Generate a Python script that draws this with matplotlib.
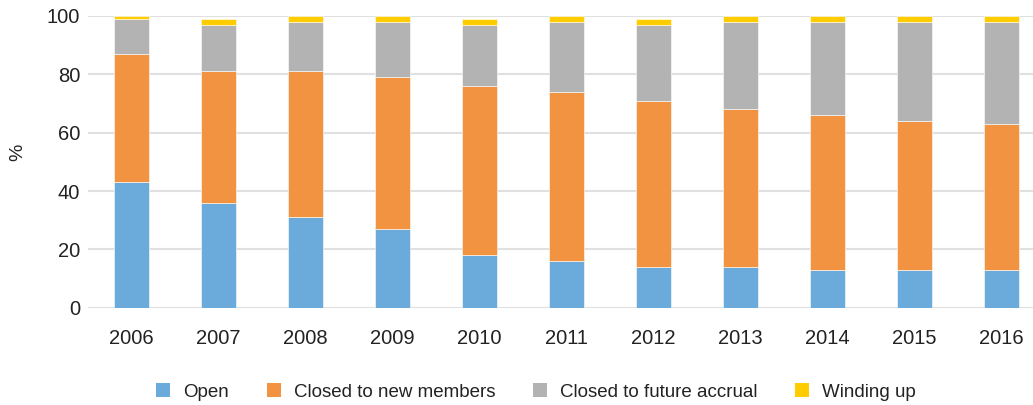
import numpy as np
from matplotlib import pyplot as plt
from matplotlib.patches import Patch

plt.rcParams['font.family'] = ['Liberation Sans', 'DejaVu Sans']

years = ['2006', '2007', '2008', '2009', '2010', '2011', '2012', '2013', '2014', '2015', '2016']
open_ = [43, 36, 31, 27, 18, 16, 14, 14, 13, 13, 13]
closed_new = [44, 45, 50, 52, 58, 58, 57, 54, 53, 51, 50]
closed_accrual = [12, 16, 17, 19, 21, 24, 26, 30, 32, 34, 35]
winding_up = [1, 2, 2, 2, 2, 2, 2, 2, 2, 2, 2]

labels = ['Open', 'Closed to new members', 'Closed to future accrual', 'Winding up']
colors = ['#6aabdb', '#f29341', '#b3b3b3', '#ffcc00']
series = [open_, closed_new, closed_accrual, winding_up]

fig = plt.figure(figsize=(10.33, 4.05), dpi=100)
ax = fig.add_axes([0.085, 0.24, 0.915, 0.7205])

x = np.arange(len(years))
bottom = np.zeros(len(years))
for vals, c in zip(series, colors):
    ax.bar(x, vals, 0.4, bottom=bottom, color=c, edgecolor='white', linewidth=0.4, zorder=3)
    bottom += np.array(vals)

ax.set_ylim(0, 100)
ax.set_xlim(-0.5, 10.36)
ax.set_yticks([0, 20, 40, 60, 80, 100])
ax.set_xticks(x)
ax.set_xticklabels(years)
ax.grid(axis='y', color='#e0e0e0', linewidth=1.5, zorder=0)
ax.set_axisbelow(True)
for s in ax.spines.values():
    s.set_visible(False)
ax.tick_params(axis='both', length=0, labelsize=14.5, colors='#222222')
ax.tick_params(axis='y', pad=5.5)
ax.tick_params(axis='x', pad=15)

ax.set_ylabel('%', fontsize=14, color='#222222')
ax.yaxis.set_label_coords(-0.065, 0.534)

handles = [Patch(facecolor=c, edgecolor='none') for c in colors]
fig.legend(handles, labels, loc='center', bbox_to_anchor=(0.519, 0.032), ncol=4,
           frameon=False, fontsize=13.5, handlelength=0.75, handleheight=0.75,
           handletextpad=0.7, columnspacing=2.0, labelcolor='#222222')

fig.savefig('out.png', dpi=100)
